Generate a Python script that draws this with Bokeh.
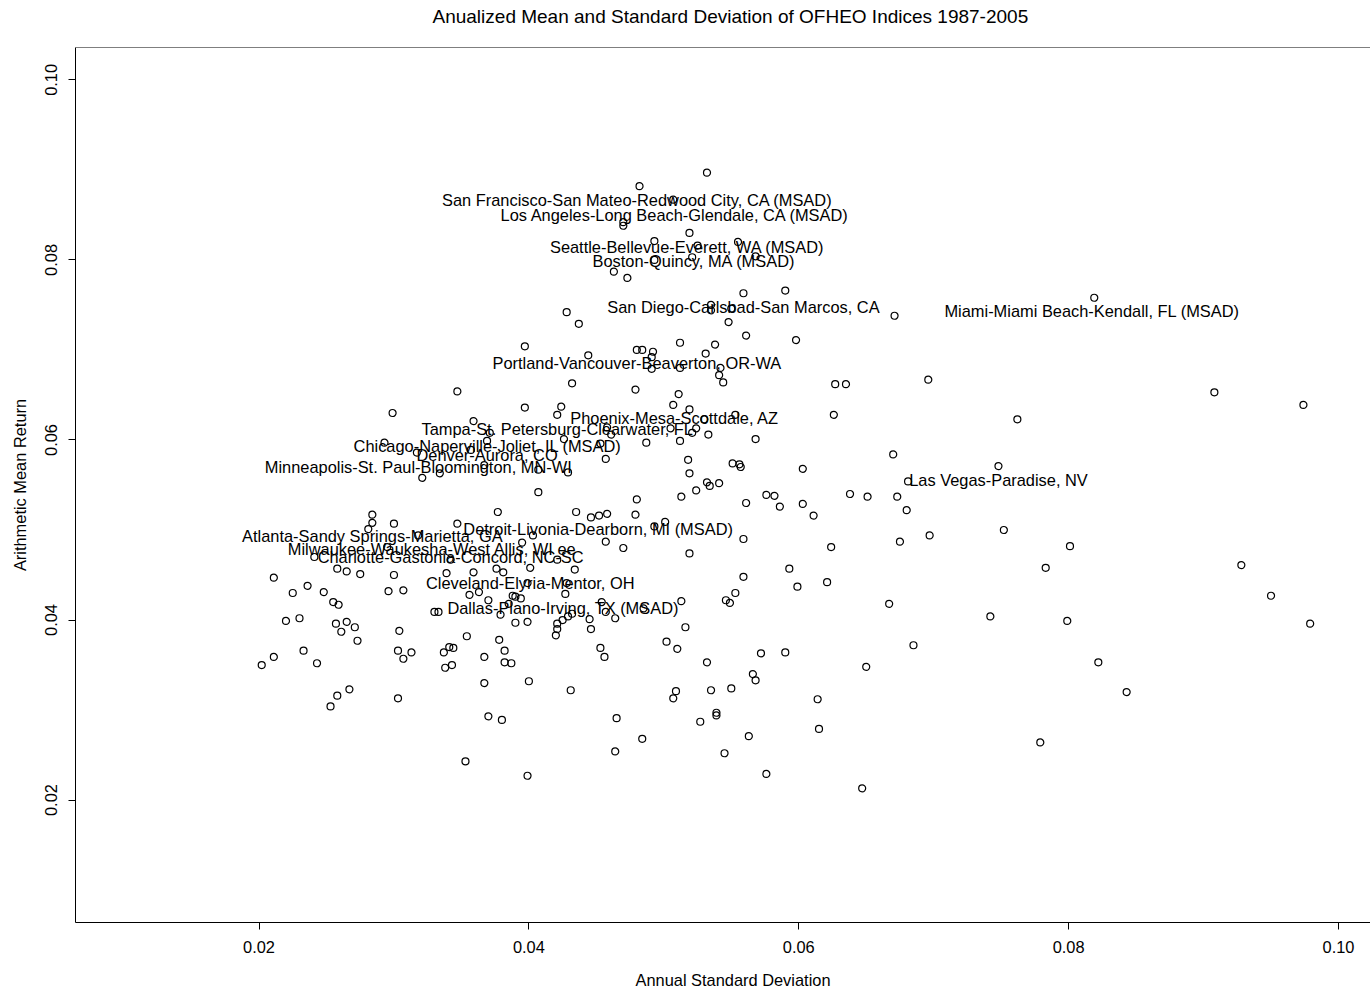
from bokeh.plotting import figure
from bokeh.models import FixedTicker, Span, Range1d, NumeralTickFormatter, Title
from bokeh.embed import file_html
from bokeh.resources import INLINE
from bokeh.core.properties import value

# Annual standard deviation (x) of each index
annual_sd = [
    0.0532, 0.0482, 0.0507, 0.0470, 0.0470, 0.0519, 0.0493, 0.0555, 0.0525, 0.0493,
    0.0521, 0.0568, 0.0463, 0.0473, 0.0559, 0.0590, 0.0535, 0.0535, 0.0550, 0.0428,
    0.0671, 0.0819, 0.0437, 0.0548, 0.0561, 0.0598, 0.0397, 0.0480, 0.0484, 0.0492,
    0.0491, 0.0512, 0.0538, 0.0531, 0.0444, 0.0491, 0.0512, 0.0542, 0.0541, 0.0544,
    0.0627, 0.0635, 0.0696, 0.0908, 0.0974, 0.0626, 0.0762, 0.0670, 0.0748, 0.0603,
    0.0681, 0.0638, 0.0651, 0.0673, 0.0603, 0.0680, 0.0611, 0.0752, 0.0624, 0.0675,
    0.0697, 0.0801, 0.0928, 0.0783, 0.0621, 0.0599, 0.0950, 0.0667, 0.0742, 0.0799,
    0.0979, 0.0685, 0.0650, 0.0822, 0.0843, 0.0614, 0.0615, 0.0779, 0.0647,
    0.0479, 0.0511, 0.0507, 0.0519, 0.0553, 0.0530, 0.0505, 0.0521, 0.0524, 0.0533,
    0.0568, 0.0487, 0.0512, 0.0518, 0.0551, 0.0556, 0.0557, 0.0519, 0.0532, 0.0534,
    0.0541, 0.0524, 0.0513, 0.0480, 0.0576, 0.0582, 0.0561, 0.0586, 0.0479, 0.0493,
    0.0501, 0.0470, 0.0559, 0.0519, 0.0593, 0.0559,
    0.0513, 0.0485, 0.0546, 0.0549, 0.0553, 0.0516, 0.0502, 0.0510, 0.0532, 0.0572,
    0.0590, 0.0566, 0.0568, 0.0509, 0.0507, 0.0535, 0.0550, 0.0539, 0.0539, 0.0527,
    0.0563, 0.0484, 0.0545, 0.0576,
    0.0356, 0.0363, 0.0370, 0.0388, 0.0390, 0.0394, 0.0385, 0.0379, 0.0390, 0.0399,
    0.0427, 0.0420, 0.0421, 0.0421, 0.0425, 0.0429, 0.0432, 0.0445, 0.0446, 0.0454,
    0.0457, 0.0464, 0.0333, 0.0354, 0.0378, 0.0341, 0.0344, 0.0337, 0.0382, 0.0367,
    0.0382, 0.0387, 0.0343, 0.0338, 0.0453, 0.0456, 0.0367, 0.0400, 0.0431, 0.0370,
    0.0380, 0.0465, 0.0464, 0.0353, 0.0399,
    0.0225, 0.0248, 0.0296, 0.0307, 0.0255, 0.0259, 0.0220, 0.0230, 0.0330, 0.0257,
    0.0265, 0.0271, 0.0261, 0.0273, 0.0304, 0.0233, 0.0211, 0.0202, 0.0243, 0.0303,
    0.0313, 0.0307, 0.0267, 0.0258, 0.0253, 0.0303,
    0.0299, 0.0293, 0.0317, 0.0321, 0.0284, 0.0284, 0.0300, 0.0281, 0.0318, 0.0295,
    0.0241, 0.0258, 0.0265, 0.0275, 0.0211, 0.0300, 0.0236,
    0.0347, 0.0432, 0.0397, 0.0424, 0.0421, 0.0359, 0.0371, 0.0369, 0.0426, 0.0453,
    0.0457, 0.0357, 0.0367, 0.0407, 0.0429, 0.0334, 0.0407, 0.0377, 0.0435, 0.0446,
    0.0452, 0.0458, 0.0347, 0.0403, 0.0457, 0.0395, 0.0342, 0.0421, 0.0401, 0.0434,
    0.0339, 0.0359, 0.0376, 0.0381, 0.0458, 0.0461, 0.0399, 0.0428,
]

# Arithmetic mean return (y) of each index
mean_return = [
    0.0897, 0.0882, 0.0867, 0.0842, 0.0838, 0.0830, 0.0821, 0.0820, 0.0816, 0.0800,
    0.0803, 0.0804, 0.0787, 0.0780, 0.0763, 0.0766, 0.0750, 0.0744, 0.0746, 0.0742,
    0.0738, 0.0758, 0.0729, 0.0731, 0.0716, 0.0711, 0.0704, 0.0700, 0.0700, 0.0698,
    0.0692, 0.0708, 0.0706, 0.0696, 0.0694, 0.0679, 0.0680, 0.0680, 0.0672, 0.0664,
    0.0662, 0.0662, 0.0667, 0.0653, 0.0639, 0.0628, 0.0623, 0.0584, 0.0571, 0.0568,
    0.0554, 0.0540, 0.0537, 0.0537, 0.0529, 0.0522, 0.0516, 0.0500, 0.0481, 0.0487,
    0.0494, 0.0482, 0.0461, 0.0458, 0.0442, 0.0437, 0.0427, 0.0418, 0.0404, 0.0399,
    0.0396, 0.0372, 0.0348, 0.0353, 0.0320, 0.0312, 0.0279, 0.0264, 0.0213,
    0.0656, 0.0651, 0.0639, 0.0634, 0.0628, 0.0623, 0.0613, 0.0608, 0.0613, 0.0606,
    0.0601, 0.0597, 0.0599, 0.0578, 0.0574, 0.0573, 0.0570, 0.0563, 0.0553, 0.0549,
    0.0552, 0.0544, 0.0537, 0.0534, 0.0539, 0.0538, 0.0530, 0.0526, 0.0517, 0.0504,
    0.0509, 0.0480, 0.0490, 0.0474, 0.0457, 0.0448,
    0.0421, 0.0413, 0.0422, 0.0419, 0.0430, 0.0392, 0.0376, 0.0368, 0.0353, 0.0363,
    0.0364, 0.0340, 0.0333, 0.0321, 0.0313, 0.0322, 0.0324, 0.0297, 0.0294, 0.0287,
    0.0271, 0.0268, 0.0252, 0.0229,
    0.0428, 0.0431, 0.0422, 0.0427, 0.0426, 0.0424, 0.0418, 0.0406, 0.0397, 0.0398,
    0.0429, 0.0383, 0.0390, 0.0396, 0.0400, 0.0404, 0.0407, 0.0401, 0.0390, 0.0420,
    0.0409, 0.0402, 0.0409, 0.0382, 0.0378, 0.0370, 0.0369, 0.0364, 0.0366, 0.0359,
    0.0353, 0.0352, 0.0350, 0.0347, 0.0369, 0.0359, 0.0330, 0.0332, 0.0322, 0.0293,
    0.0289, 0.0291, 0.0254, 0.0243, 0.0227,
    0.0430, 0.0431, 0.0432, 0.0433, 0.0420, 0.0417, 0.0399, 0.0402, 0.0409, 0.0396,
    0.0398, 0.0392, 0.0387, 0.0377, 0.0388, 0.0366, 0.0359, 0.0350, 0.0352, 0.0366,
    0.0364, 0.0357, 0.0323, 0.0316, 0.0304, 0.0313,
    0.0630, 0.0597, 0.0586, 0.0558, 0.0517, 0.0508, 0.0507, 0.0501, 0.0494, 0.0481,
    0.0470, 0.0457, 0.0454, 0.0451, 0.0447, 0.0450, 0.0438,
    0.0654, 0.0663, 0.0636, 0.0637, 0.0628, 0.0621, 0.0608, 0.0599, 0.0601, 0.0596,
    0.0579, 0.0589, 0.0572, 0.0567, 0.0564, 0.0563, 0.0542, 0.0520, 0.0520, 0.0514,
    0.0516, 0.0518, 0.0507, 0.0494, 0.0487, 0.0486, 0.0467, 0.0467, 0.0458, 0.0456,
    0.0452, 0.0453, 0.0457, 0.0453, 0.0614, 0.0606, 0.0441, 0.0441,
]

# Area name labels and where they are written (data coordinates)
label_names = [
    "San Francisco-San Mateo-Redwood City, CA  (MSAD)",
    "Los Angeles-Long Beach-Glendale, CA  (MSAD)",
    "Seattle-Bellevue-Everett, WA  (MSAD)",
    "Boston-Quincy, MA  (MSAD)",
    "San Diego-Carlsbad-San Marcos, CA",
    "Miami-Miami Beach-Kendall, FL  (MSAD)",
    "Portland-Vancouver-Beaverton, OR-WA",
    "Phoenix-Mesa-Scottdale, AZ",
    "Tampa-St. Petersburg-Clearwater, FL",
    "Chicago-Naperville-Joliet, IL  (MSAD)",
    "Denver-Aurora, CO",
    "Minneapolis-St. Paul-Bloomington, MN-WI",
    "Las Vegas-Paradise, NV",
    "Detroit-Livonia-Dearborn, MI  (MSAD)",
    "Atlanta-Sandy Springs-Marietta, GA",
    "Milwaukee-Waukesha-West Allis, WI  ee",
    "Charlotte-Gastonia-Concord, NC-SC",
    "Cleveland-Elyria-Mentor, OH",
    "Dallas-Plano-Irving, TX  (MSAD)",
]
label_sd = [0.0482, 0.0510, 0.0519, 0.0524, 0.0559, 0.0819, 0.0480, 0.0508, 0.0421, 0.0371,
            0.0369, 0.0318, 0.0748, 0.0453, 0.0284, 0.0330, 0.0342, 0.0401, 0.0427]
label_ret = [0.0867, 0.0850, 0.0814, 0.0799, 0.0748, 0.0743, 0.0686, 0.0624, 0.0612, 0.0593,
             0.0583, 0.0570, 0.0556, 0.0501, 0.0493, 0.0479, 0.0470, 0.0441, 0.0413]

tick_values = [0.02, 0.04, 0.06, 0.08, 0.10]

FONT = "Liberation Sans"
TXT = "16.4px"

p = figure(width=1370, height=993, output_backend="svg", toolbar_location=None,
           x_range=Range1d(0.0064, 0.10237), y_range=Range1d(0.0064, 0.1036),
           min_border_left=75, min_border_right=0, min_border_top=47, min_border_bottom=71,
           title="Anualized Mean and Standard Deviation of OFHEO Indices 1987-2005")

p.background_fill_color = "white"
p.border_fill_color = "white"
p.outline_line_color = None
p.grid.grid_line_color = None

xax = p.below[0]
yax = p.left[0]

for ax in (xax, yax):
    ax.ticker = FixedTicker(ticks=tick_values)
    ax.formatter = NumeralTickFormatter(format="0.00")
    ax.major_tick_in = 0
    ax.major_tick_out = 7
    ax.minor_tick_line_color = None
    ax.minor_tick_in = 0
    ax.minor_tick_out = 0
    ax.major_tick_line_color = "black"
    ax.axis_line_color = "black"
    ax.major_label_text_font = FONT
    ax.major_label_text_font_size = TXT
    ax.major_label_text_color = "black"

xax.major_label_standoff = 11
yax.major_label_standoff = 11
yax.major_label_orientation = "vertical"
yax.axis_label = "Arithmetic Mean Return"
yax.axis_label_text_font = FONT
yax.axis_label_text_font_size = TXT
yax.axis_label_text_font_style = "normal"
yax.axis_label_text_color = "black"
yax.axis_label_standoff = 14

p.title.align = "left"
p.title.offset = 357
p.title.text_font = FONT
p.title.text_font_size = "19px"
p.title.text_font_style = "normal"
p.title.text_color = "black"
p.title.standoff = 0
p.title.padding = dict(left=0, right=0, top=0, bottom=21)

p.add_layout(Title(text="Annual Standard Deviation", align="left", offset=560,
                   vertical_align="top", standoff=0,
                   padding=dict(left=0, right=0, top=15, bottom=0),
                   text_font=FONT, text_font_size=TXT, text_font_style="normal",
                   text_color="black"),
             "below")

p.add_layout(Span(location=0.1036, dimension="width", line_color="black", line_width=1))

p.scatter(annual_sd, mean_return, marker="circle", size=7, fill_color=None,
          line_color="black", line_width=1.2)

p.text(x=label_sd, y=label_ret, text=label_names, text_align="center",
       text_baseline="middle", text_font=value(FONT), text_font_size=value(TXT),
       text_color="black")

open("out.html", "w").write(file_html(p, INLINE))
